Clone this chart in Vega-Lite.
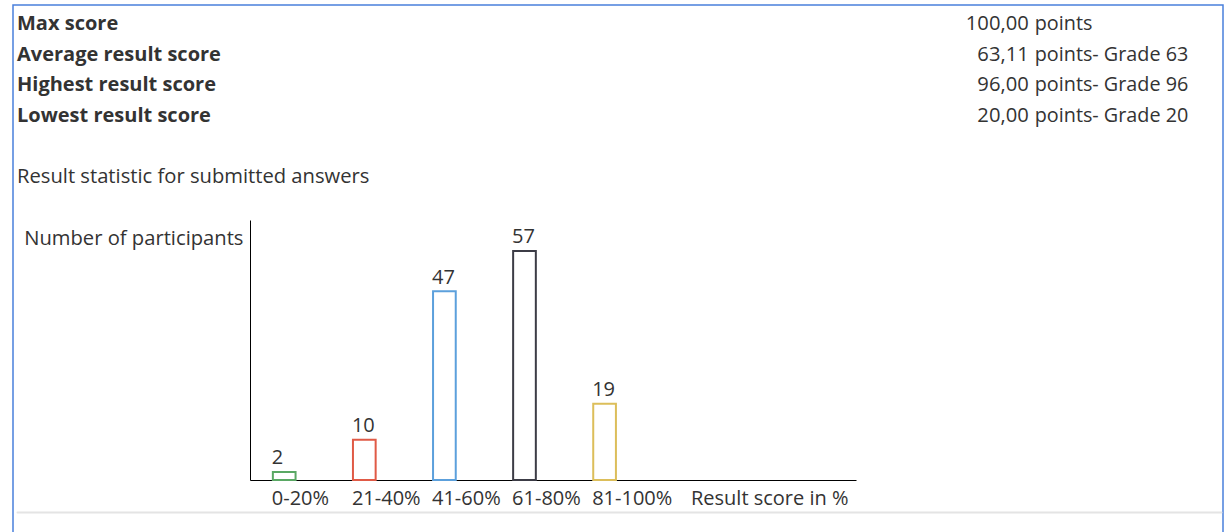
{
  "$schema": "https://vega.github.io/schema/vega-lite/v6.json",
  "autosize": {"type": "none"},
  "padding": {"left": 13, "top": 5, "right": 1, "bottom": 0},
  "width": 1210,
  "height": 527,
  "background": "white",
  "datasets": {
    "header": [
      {"metric": "Max score", "score": "100,00", "detail": "points"},
      {"metric": "Average result score", "score": "63,11", "detail": "points- Grade 63"},
      {"metric": "Highest result score", "score": "96,00", "detail": "points- Grade 96"},
      {"metric": "Lowest result score", "score": "20,00", "detail": "points- Grade 20"}
    ],
    "subtitle": [
      {"metric": "Result statistic for submitted answers"}
    ],
    "bars": [
      {"range": "0-20%", "count": 2},
      {"range": "21-40%", "count": 10},
      {"range": "41-60%", "count": 47},
      {"range": "61-80%", "count": 57},
      {"range": "81-100%", "count": 19}
    ]
  },
  "resolve": {
    "scale": {"x": "independent", "y": "independent"},
    "axis": {"x": "independent", "y": "independent"}
  },
  "layer": [
    {
      "layer": [
        {
          "data": {"name": "header"},
          "mark": {"type": "text", "align": "left", "baseline": "alphabetic", "fontWeight": "bold", "fontSize": 20, "font": "Open Sans", "color": "#333333"},
          "encoding": {
            "x": {"datum": "name", "type": "nominal", "scale": {"type": "point", "domain": ["name", "score"], "range": [4, 1208], "padding": 0.095, "align": 0}, "axis": {"orient": "bottom", "offset": -20, "labels": false, "ticks": false, "tickSize": 0, "grid": false, "title": null, "domainColor": "#e4e4e4", "domainWidth": 2, "domainCap": "round"}},
            "y": {"field": "metric", "type": "nominal", "scale": {"type": "point", "domain": ["Max score", "Average result score", "Highest result score", "Lowest result score", "", "Result statistic for submitted answers"], "range": [25, 177.5], "padding": 0}, "axis": null},
            "text": {"field": "metric"}
          }
        },
        {
          "data": {"name": "header"},
          "mark": {"type": "text", "align": "right", "baseline": "alphabetic", "fontSize": 20.2, "font": "Open Sans", "color": "#333333"},
          "encoding": {
            "x": {"datum": "score", "type": "nominal", "scale": {"type": "point", "domain": ["name", "score"], "range": [4, 1208], "padding": 0.095, "align": 0}, "axis": {"orient": "bottom", "offset": -20, "labels": false, "ticks": false, "tickSize": 0, "grid": false, "title": null, "domainColor": "#e4e4e4", "domainWidth": 2, "domainCap": "round"}},
            "y": {"field": "metric", "type": "nominal", "axis": null},
            "text": {"field": "score"}
          }
        },
        {
          "data": {"name": "header"},
          "mark": {"type": "text", "align": "left", "baseline": "alphabetic", "dx": 6, "fontSize": 19.8, "font": "Open Sans", "color": "#333333"},
          "encoding": {
            "x": {"datum": "score", "type": "nominal", "scale": {"type": "point", "domain": ["name", "score"], "range": [4, 1208], "padding": 0.095, "align": 0}, "axis": {"orient": "bottom", "offset": -20, "labels": false, "ticks": false, "tickSize": 0, "grid": false, "title": null, "domainColor": "#e4e4e4", "domainWidth": 2, "domainCap": "round"}},
            "y": {"field": "metric", "type": "nominal", "axis": null},
            "text": {"field": "detail"}
          }
        },
        {
          "data": {"name": "subtitle"},
          "mark": {"type": "text", "align": "left", "baseline": "alphabetic", "fontSize": 20.2, "font": "Open Sans", "color": "#333333"},
          "encoding": {
            "x": {"datum": "name", "type": "nominal", "scale": {"type": "point", "domain": ["name", "score"], "range": [4, 1208], "padding": 0.095, "align": 0}, "axis": {"orient": "bottom", "offset": -20, "labels": false, "ticks": false, "tickSize": 0, "grid": false, "title": null, "domainColor": "#e4e4e4", "domainWidth": 2, "domainCap": "round"}},
            "y": {"field": "metric", "type": "nominal", "axis": null},
            "text": {"field": "metric"}
          }
        }
      ]
    },
    {
      "data": {"name": "bars"},
      "encoding": {
        "x": {
          "field": "range", "type": "nominal", "sort": null,
          "scale": {"type": "band", "domain": ["0-20%", "21-40%", "41-60%", "61-80%", "81-100%", " ", "  "], "range": [237, 843], "paddingInner": 0.7166, "paddingOuter": 0.6415, "align": 0.2225},
          "axis": {
            "orient": "bottom", "offset": -52, "domainColor": "#000000", "domainWidth": 1,
            "ticks": false, "tickSize": 0, "grid": false,
            "labelAlign": "left", "labelOffset": -12.4, "labelBaseline": "alphabetic", "labelPadding": 24, "labelAngle": 0,
            "labelFont": "Open Sans", "labelFontSize": 20, "labelColor": "#333333",
            "title": "Result score in %", "titleX": 835, "titleY": 24, "titleAlign": "right", "titleBaseline": "alphabetic",
            "titleFont": "Open Sans", "titleFontSize": 20, "titleFontWeight": "normal", "titleColor": "#333333"
          }
        },
        "y": {
          "field": "count", "type": "quantitative",
          "scale": {"domain": [0, 64.7], "range": [475, 215], "nice": false, "zero": true},
          "axis": {
            "orient": "left", "offset": -237, "domainColor": "#000000", "domainWidth": 1,
            "labels": false, "ticks": false, "tickSize": 0, "grid": false,
            "title": "Number of participants", "titleAngle": 0, "titleAlign": "right", "titleBaseline": "alphabetic",
            "titleX": -7, "titleY": 239,
            "titleFont": "Open Sans", "titleFontSize": 20.2, "titleFontWeight": "normal", "titleColor": "#333333"
          }
        }
      },
      "layer": [
        {
          "mark": {"type": "bar", "fill": "white", "strokeWidth": 2},
          "encoding": {
            "stroke": {"field": "range", "type": "nominal", "scale": {"domain": ["0-20%", "21-40%", "41-60%", "61-80%", "81-100%"], "range": ["#5aa864", "#e05a46", "#5ca0dc", "#3c3c46", "#dcbe5a"]}, "legend": null}
          }
        },
        {
          "mark": {"type": "text", "align": "left", "baseline": "alphabetic", "dx": -12.4, "dy": -7.6, "fontSize": 20, "font": "Open Sans", "color": "#333333"},
          "encoding": {
            "text": {"field": "count", "type": "quantitative"}
          }
        }
      ]
    }
  ],
  "config": {
    "view": {"stroke": "#4a80dc", "strokeWidth": 1.5, "strokeDash": [1737, 1210, 527]},
    "font": "Open Sans"
  }
}
